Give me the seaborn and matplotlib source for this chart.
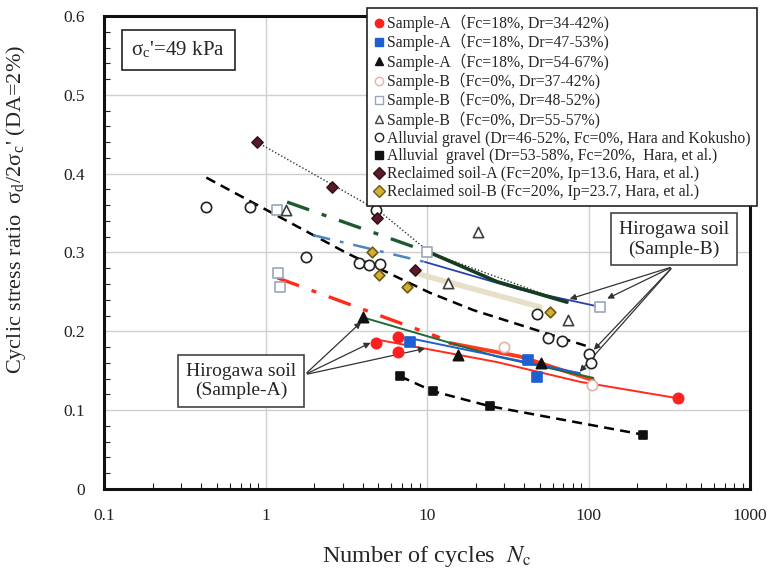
import numpy as np
import matplotlib
matplotlib.use("Agg")
import matplotlib.pyplot as plt
from matplotlib.lines import Line2D
from matplotlib.ticker import NullFormatter, MultipleLocator, LogLocator
import seaborn as sns

# ---- data (N = cycles, csr = cyclic stress ratio) ----
# Sample-A (Fc=18%)
a1_n = [4.8, 6.6, 6.6, 360]
a1_csr = [0.185, 0.193, 0.174, 0.115]
a2_n = [7.9, 42, 48]
a2_csr = [0.187, 0.164, 0.142]
a3_n = [4.0, 15.6, 51]
a3_csr = [0.218, 0.170, 0.160]
# Sample-B (Fc=0%)
b1_n = [30, 105]
b1_csr = [0.180, 0.132]
b2_n = [1.18, 1.19, 1.23, 10, 118]
b2_csr = [0.354, 0.274, 0.256, 0.300, 0.231]
b3_n = [1.34, 13.5, 20.7, 75]
b3_csr = [0.354, 0.261, 0.326, 0.214]
# Alluvial gravel
g1_n = [0.43, 0.80, 1.77, 3.8, 4.4, 5.1, 4.8, 48, 56, 69, 101, 104]
g1_csr = [0.358, 0.358, 0.294, 0.287, 0.284, 0.286, 0.354, 0.222, 0.192, 0.188, 0.171, 0.160]
g2_n = [6.8, 10.9, 24.5, 217]
g2_csr = [0.143, 0.124, 0.105, 0.069]
# Reclaimed soils
ra_n = [0.885, 2.58, 4.9, 8.4]
ra_csr = [0.440, 0.383, 0.344, 0.278]
rb_n = [4.56, 5.05, 7.5, 58]
rb_csr = [0.300, 0.272, 0.256, 0.225]

# fitted curves
fit_g1_n = [0.43, 3.2, 10.4, 19.3, 102]
fit_g1_csr = [0.395, 0.299, 0.249, 0.227, 0.180]
fit_ra_n = [0.885, 5.1, 10.4, 66]
fit_ra_csr = [0.440, 0.352, 0.300, 0.240]
fit_rb_n = [9.1, 50]
fit_rb_csr = [0.272, 0.231]
fitB_green_dd_n = [1.36, 10.4]
fitB_green_dd_csr = [0.364, 0.300]
fitB_green_n = [10.4, 27.1, 73.6]
fitB_green_csr = [0.300, 0.263, 0.237]
fitB_blue_dd_n = [1.97, 9.7]
fitB_blue_dd_csr = [0.322, 0.288]
fitB_blue_n = [9.7, 37.7, 118]
fitB_blue_csr = [0.288, 0.253, 0.231]
fitA_red_dd_n = [1.18, 12.0]
fitA_red_dd_csr = [0.268, 0.192]
fitA_red_thick_n = [13.9, 37.7, 107]
fitA_red_thick_csr = [0.185, 0.168, 0.138]
fitA_red_n = [4.76, 27.1, 88.5, 360]
fitA_red_csr = [0.190, 0.161, 0.136, 0.115]
fitA_green_n = [3.96, 27.1, 107]
fitA_green_csr = [0.218, 0.168, 0.141]
fitA_blue_n = [7.5, 88.5]
fitA_blue_csr = [0.192, 0.147]

x_ticks = [0.1, 1, 10, 100, 1000]
x_ticklabels = ["0.1", "1", "10", "100", "1000"]
y_ticks = [0, 0.1, 0.2, 0.3, 0.4, 0.5, 0.6]
y_ticklabels = ["0", "0.1", "0.2", "0.3", "0.4", "0.5", "0.6"]

labels = [
    "Sample-A（Fc=18%, Dr=34-42%)",
    "Sample-A（Fc=18%, Dr=47-53%)",
    "Sample-A（Fc=18%, Dr=54-67%)",
    "Sample-B（Fc=0%, Dr=37-42%)",
    "Sample-B（Fc=0%, Dr=48-52%)",
    "Sample-B（Fc=0%, Dr=55-57%)",
    "Alluvial gravel (Dr=46-52%, Fc=0%, Hara and Kokusho)",
    "Alluvial  gravel (Dr=53-58%, Fc=20%,  Hara, et al.)",
    "Reclaimed soil-A (Fc=20%, Ip=13.6, Hara, et al.)",
    "Reclaimed soil-B (Fc=20%, Ip=23.7, Hara, et al.)",
]

sns.set_style("white")
plt.rcParams["font.family"] = ["Liberation Serif", "Noto Sans CJK JP", "DejaVu Sans"]
plt.rcParams["mathtext.fontset"] = "stix"

fig = plt.figure(figsize=(7.74, 5.69), dpi=100)
ax = fig.add_axes([0.1344, 0.1406, 0.8346, 0.8313])
ax.set_xscale("log")


def line(n, c, color, lw, ls="-", alpha=1.0):
    sns.lineplot(x=n, y=c, ax=ax, color=color, lw=lw, linestyle=ls, sort=False,
                 estimator=None, legend=False, alpha=alpha)


dd = (0, (7, 4, 1.5, 4))
# Sample-B / gravel / reclaimed fits
line(fit_rb_n, fit_rb_csr, "#e6dcc4", 4, alpha=0.9)
line(fit_g1_n, fit_g1_csr, "black", 1.8, (0, (4, 2.5)))
line(fit_ra_n, fit_ra_csr, "#333333", 1.0, (0, (1, 1.5)))
line(fitB_blue_dd_n, fitB_blue_dd_csr, "#4a86c0", 1.8, dd)
line(fitB_blue_n, fitB_blue_csr, "#2a3fb0", 1.3)
line(fitB_green_dd_n, fitB_green_dd_csr, "#1e5a30", 2.4, dd)
line(fitB_green_n, fitB_green_csr, "#163d20", 2.6)
# Sample-A fits
line(fitA_red_dd_n, fitA_red_dd_csr, "#ff2a1a", 2.4, dd)
line(fitA_red_thick_n, fitA_red_thick_csr, "#ff3a1a", 2.8)
line(fitA_red_n, fitA_red_csr, "#ff2a1a", 1.4)
line(fitA_green_n, fitA_green_csr, "#1f6b35", 1.4)
line(fitA_blue_n, fitA_blue_csr, "#1f5fd0", 1.4)
line(g2_n, g2_csr, "black", 1.8, (0, (4, 2.5)))

# markers
styles = [
    (a1_n, a1_csr, "o", "#ff2020", "#ff2020", 55),
    (a2_n, a2_csr, "s", "#1f5fd0", "#1f5fd0", 50),
    (a3_n, a3_csr, "^", "#111111", "#111111", 55),
    (b1_n, b1_csr, "o", "white", "#e0b4a8", 55),
    (b2_n, b2_csr, "s", "white", "#9aa6bc", 50),
    (b3_n, b3_csr, "^", "white", "#404040", 55),
    (g1_n, g1_csr, "o", "white", "#222222", 55),
    (g2_n, g2_csr, "s", "#111111", "#111111", 40),
    (ra_n, ra_csr, "D", "#5a1a2a", "#3a1018", 32),
    (rb_n, rb_csr, "D", "#d4b030", "#6a5a20", 30),
]
handles = []
for (n, c, m, fc, ec, s), lab in zip(styles, labels):
    sns.scatterplot(x=n, y=c, ax=ax, marker=m, s=s, color=fc, edgecolor=ec,
                    linewidth=1.2, zorder=5, legend=False)
    handles.append(Line2D([], [], marker=m, ls="none", markersize=6,
                          markerfacecolor=fc, markeredgecolor=ec, markeredgewidth=1))

ax.set_xlim(0.1, 1000)
ax.set_ylim(0, 0.6)
ax.set_xticks(x_ticks, x_ticklabels)
ax.xaxis.set_minor_locator(LogLocator(base=10, subs=np.arange(2, 10)))
ax.xaxis.set_minor_formatter(NullFormatter())
ax.set_yticks(y_ticks, y_ticklabels)
ax.yaxis.set_minor_locator(MultipleLocator(0.02))
ax.tick_params(which="both", direction="in", labelsize=12.5, colors="#222222")
ax.tick_params(which="major", length=0, pad=14)
ax.tick_params(which="minor", length=4, width=0.8, top=False, right=False,
               bottom=True, left=True)
ax.grid(True, which="major", color="#cfcfcf", lw=1)
for sp in ax.spines.values():
    sp.set_linewidth(2.2)
    sp.set_color("#111111")

ax.set_xlabel("Number of cycles  $N_{\\rm c}$", fontsize=17.5, labelpad=14)
ax.set_ylabel("Cyclic stress ratio  σ$_\\mathregular{d}$/2σ$_\\mathregular{c}$' (DA=2%)",
              fontsize=16)
ax.yaxis.set_label_coords(-0.118, 0.59)

ax.text(0.115, 0.928, "σ$_\\mathregular{c}$'=49 kPa", transform=ax.transAxes, fontsize=15,
        ha="center", va="center",
        bbox=dict(boxstyle="square,pad=0.45", fc="white", ec="#222222", lw=1.2))

ax.text(0.705, 0.137, "Hirogawa soil\n(Sample-A)", fontsize=14, ha="center",
        va="center", zorder=6, linespacing=1.2,
        bbox=dict(boxstyle="square,pad=0.4", fc="white", ec="#444444", lw=1.2))
for tgt in [(4.02, 0.214), (4.63, 0.187), (10.1, 0.179)]:
    ax.annotate("", xy=tgt, xytext=(1.75, 0.145),
                arrowprops=dict(arrowstyle="-|>", color="#333333", lw=0.9,
                                mutation_scale=9))

ax.text(338, 0.317, "Hirogawa soil\n(Sample-B)", fontsize=14, ha="center",
        va="center", zorder=6, linespacing=1.2,
        bbox=dict(boxstyle="square,pad=0.4", fc="white", ec="#444444", lw=1.2))
for tgt in [(73.6, 0.240), (126, 0.240), (105, 0.174), (86, 0.146)]:
    ax.annotate("", xy=tgt, xytext=(333, 0.282),
                arrowprops=dict(arrowstyle="-|>", color="#333333", lw=0.9,
                                mutation_scale=9))

leg = ax.legend(handles, labels, loc="upper left", bbox_to_anchor=(0.407, 1.016),
                fontsize=11.3, frameon=True, fancybox=False, framealpha=1,
                edgecolor="#222222", labelspacing=0.12, handletextpad=0.1,
                handlelength=0.8, borderpad=0.4, borderaxespad=0)
leg.get_frame().set_linewidth(1.2)
leg.set_zorder(10)

fig.savefig("out.png", dpi=100)
